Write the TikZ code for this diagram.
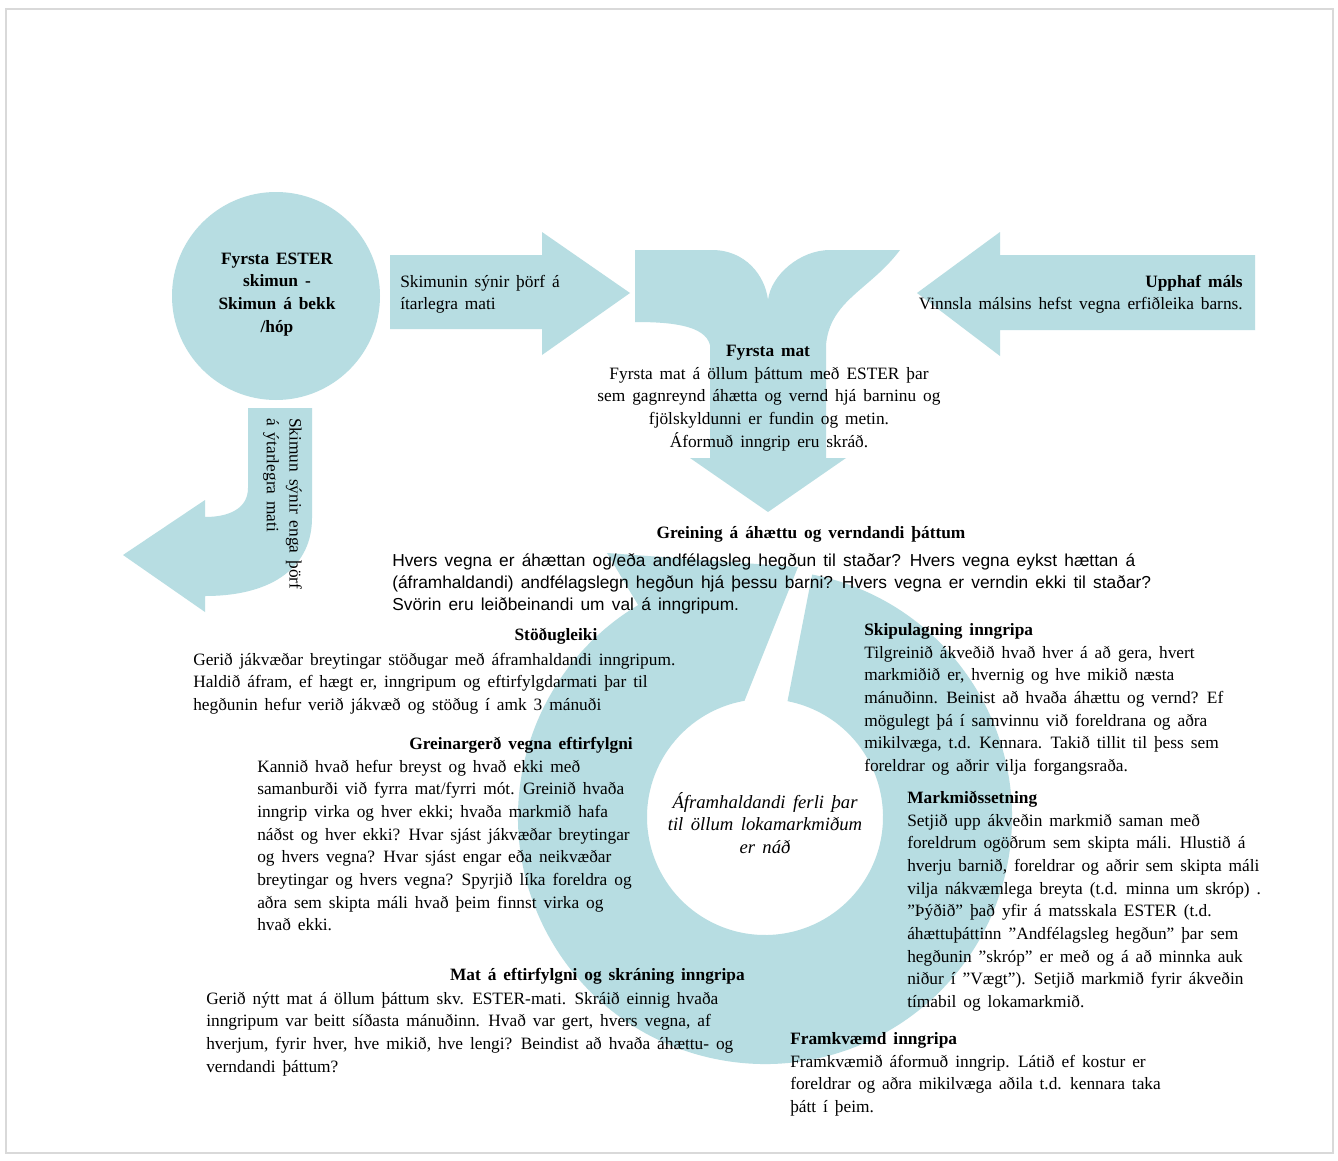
\documentclass[tikz,border=0pt]{standalone}
\usepackage{fontspec}
\setmainfont{Liberation Serif}[WordSpace=1.6]
\setsansfont{Liberation Sans}[WordSpace=1.5]
\usetikzlibrary{positioning}

\definecolor{esterteal}{RGB}{183,221,226}

\tikzset{
  shapefill/.style={fill=esterteal, draw=none},
  txt/.style={inner sep=0pt, align=flush left, font=\fontsize{13}{17}\selectfont},
  head/.style={inner sep=0pt, font=\fontsize{13}{17}\selectfont\bfseries},
}

\begin{document}
\begin{tikzpicture}[x=0.75pt,y=-0.75pt]
\useasboundingbox (0,0) rectangle (1338,1160);
\fill[white] (0,0) rectangle (1338,1160);
\draw[gray!30, line width=1.5pt] (6,9) rectangle (1333,1153);

% hringur med orvaroddi
\fill[shapefill] ([shift={(765,817)}]-79:247) arc[start angle=-79, end angle=239.1, radius=247]
  -- (607,553) -- (798,567) -- ([shift={(765,817)}]260:118)
  arc[start angle=260, end angle=-79, radius=118] -- cycle;

% fyrsta mat
\fill[shapefill] (635,250) -- (712,250) .. controls (745,250) and (765,275) .. (768,300)
  .. controls (771,275) and (800,250) .. (830,250) -- (900,250)
  .. controls (870,290) and (830,300) .. (826,345) -- (826,458) -- (846,458) -- (768,512)
  -- (690,458) -- (710,458) -- (710,345) .. controls (705,325) and (670,322) .. (635,322) -- cycle;

% orvar efst
\fill[shapefill] (390,255) -- (542,255) -- (542,232) -- (630,293) -- (542,355) -- (542,329) -- (390,329) -- cycle;
\fill[shapefill] (1255,255) -- (1000,255) -- (1000,232) -- (917,293) -- (1000,356) -- (1000,330) -- (1255,330) -- cycle;

% bogin or
\fill[shapefill] (248,408) -- (248,488) .. controls (248,508) and (230,517) .. (205,517) -- (205,500)
  -- (123,555) -- (205,612) -- (205,596) .. controls (275,596) and (312,565) .. (312,518) -- (312,408) -- cycle;

\node[circle, shapefill, minimum size=156pt, inner sep=0pt] (screen) at (276,296) {};
\node[head, text width=120pt, align=flush center, anchor=base] (screenText) at (277,264) {Fyrsta ESTER\\ skimun -\\ Skimun á bekk\\ /hóp};

\node[txt, anchor=base west, text width=150pt] (needMore) at (400,287) {Skimunin sýnir þörf á\\ ítarlegra mati};
\node[txt, anchor=base east, text width=270pt, align=flush right] (start) at (1243,287) {\textbf{Upphaf máls}\\ Vinnsla málsins hefst vegna erfiðleika barns.};
\node[txt, rotate=-90, anchor=north west, text width=150pt] (noNeed) at (302,418) {Skimun sýnir enga þörf\\ á ýtarlegra mati};

\node[head, anchor=base] (firstHead) at (768,356) {Fyrsta mat};
\node[txt, anchor=base, text width=290pt, align=flush center] (first) at (769,379) {Fyrsta mat á öllum þáttum með ESTER þar\\ sem gagnreynd áhætta og vernd hjá barninu og\\ fjölskyldunni er fundin og metin.\\ Áformuð inngrip eru skráð.};

\node[head, anchor=base] (riskHead) at (811,538) {Greining á áhættu og verndandi þáttum};
\node[txt, font=\sffamily\fontsize{13}{16.5}\selectfont, anchor=base west, text width=620pt] (risk) at (392,566) {Hvers vegna er áhættan og/eða andfélagsleg hegðun til staðar? Hvers vegna eykst hættan á\\ (áframhaldandi) andfélagslegn hegðun hjá þessu barni? Hvers vegna er verndin ekki til staðar?\\ Svörin eru leiðbeinandi um val á inngripum.};

\node[head, anchor=base] (stableHead) at (556,640) {Stöðugleiki};
\node[txt, anchor=base west, text width=420pt] (stable) at (193,665) {Gerið jákvæðar breytingar stöðugar með áframhaldandi inngripum.\\ Haldið áfram, ef hægt er, inngripum og eftirfylgdarmati þar til\\ hegðunin hefur verið jákvæð og stöðug í amk 3 mánuði};

\node[head, anchor=base east] (reportHead) at (633,749) {Greinargerð vegna eftirfylgni};
\node[txt, anchor=base west, text width=330pt] (report) at (257,772) {Kannið hvað hefur breyst og hvað ekki með\\ samanburði við fyrra mat/fyrri mót. Greinið hvaða\\ inngrip virka og hver ekki; hvaða markmið hafa\\ náðst og hver ekki? Hvar sjást jákvæðar breytingar\\ og hvers vegna? Hvar sjást engar eða neikvæðar\\ breytingar og hvers vegna? Spyrjið líka foreldra og\\ aðra sem skipta máli hvað þeim finnst virka og\\ hvað ekki.};

\node[txt, font=\itshape\fontsize{14}{17}\selectfont, anchor=base, text width=170pt, align=flush center] (loop) at (765,808) {Áframhaldandi ferli þar\\ til öllum lokamarkmiðum\\ er náð};

\node[head, anchor=base west] (planHead) at (864,635) {Skipulagning inngripa};
\node[txt, anchor=base west, text width=320pt] (plan) at (864,658) {Tilgreinið ákveðið hvað hver á að gera, hvert\\ markmiðið er, hvernig og hve mikið næsta\\ mánuðinn. Beinist að hvaða áhættu og vernd? Ef\\ mögulegt þá í samvinnu við foreldrana og aðra\\ mikilvæga, t.d. Kennara. Takið tillit til þess sem\\ foreldrar og aðrir vilja forgangsraða.};

\node[head, anchor=base west] (goalHead) at (907,803) {Markmiðssetning};
\node[txt, anchor=base west, text width=320pt] (goal) at (907,826) {Setjið upp ákveðin markmið saman með\\ foreldrum ogöðrum sem skipta máli. Hlustið á\\ hverju barnið, foreldrar og aðrir sem skipta máli\\ vilja nákvæmlega breyta (t.d. minna um skróp) .\\ ''Þýðið'' það yfir á matsskala ESTER (t.d.\\ áhættuþáttinn ''Andfélagsleg hegðun'' þar sem\\ hegðunin ''skróp'' er með og á að minnka auk\\ niður í ''Vægt''). Setjið markmið fyrir ákveðin\\ tímabil og lokamarkmið.};

\node[head, anchor=base east] (followHead) at (745,980) {Mat á eftirfylgni og skráning inngripa};
\node[txt, anchor=base west, text width=440pt] (follow) at (206,1004) {Gerið nýtt mat á öllum þáttum skv. ESTER-mati. Skráið einnig hvaða\\ inngripum var beitt síðasta mánuðinn. Hvað var gert, hvers vegna, af\\ hverjum, fyrir hver, hve mikið, hve lengi? Beindist að hvaða áhættu- og\\ verndandi þáttum?};

\node[head, anchor=base west] (doHead) at (790,1044) {Framkvæmd inngripa};
\node[txt, anchor=base west, text width=320pt] (do) at (790,1067) {Framkvæmið áformuð inngrip. Látið ef kostur er\\ foreldrar og aðra mikilvæga aðila t.d. kennara taka\\ þátt í þeim.};
\end{tikzpicture}
\end{document}
